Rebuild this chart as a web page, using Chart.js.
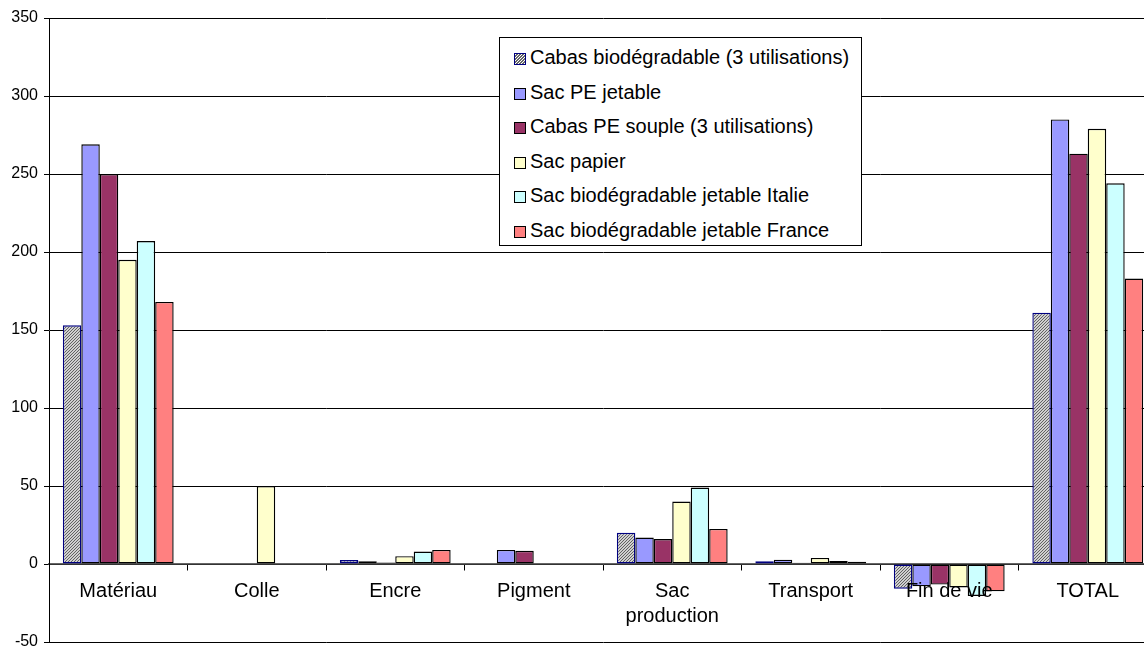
<!DOCTYPE html>
<html>
<head>
<meta charset="utf-8">
<script src="https://cdn.jsdelivr.net/npm/chart.js@4"></script>
<style>
  html, body { margin: 0; padding: 0; background: #fff; overflow: hidden; }
  #wrap { position: relative; width: 1160px; height: 660px; }
  #legend {
    position: absolute; left: 499px; top: 37px; width: 361px; height: 207px;
    border: 1px solid #000; background: #fff; box-sizing: content-box;
    font-family: "Liberation Sans", Arial, sans-serif; font-size: 20px; color: #000;
  }
  #legend .item { position: absolute; left: 14px; height: 22px; line-height: 22px; white-space: nowrap; }
  #legend .sw { display: inline-block; width: 12px; height: 12px; border: 1px solid #000; vertical-align: -1px; margin-right: 4px; box-sizing: border-box; }
</style>
</head>
<body>
<div id="wrap">
  <canvas id="chart" width="1160" height="660"></canvas>
  <div id="legend"></div>
</div>
<script>
const categories = ['Matériau', 'Colle', 'Encre', 'Pigment', ['Sac', 'production'], 'Transport', 'Fin de vie', 'TOTAL'];
const seriesNames = [
    'Cabas biodégradable (3 utilisations)',
    'Sac PE jetable',
    'Cabas PE souple (3 utilisations)',
    'Sac papier',
    'Sac biodégradable jetable Italie',
    'Sac biodégradable jetable France'
];
// null = no bar in the reference
const cabasBio   = [153, null, 2.5, null, 20, 1.7, -15.8, 161];
const sacPE      = [269, null, 1.7, 9, 17, 2.8, -14.3, 285];
const cabasPE    = [250, null, 1, 8.5, 16, 0.8, -13.2, 263];
const sacPapier  = [195, 50, 5, null, 40, 3.9, -15, 279];
const bioItalie  = [207, null, 8, null, 49, 2, -20.5, 244];
const bioFrance  = [168, null, 9, null, 22.5, 1.5, -17.5, 183];
const yTicks = [-50, 0, 50, 100, 150, 200, 250, 300, 350];

const FONT = '"Liberation Sans", Arial, sans-serif';

// hatched fill for the first series
function makeHatch() {
    const c = document.createElement('canvas');
    c.width = 3; c.height = 3;
    const g = c.getContext('2d');
    g.fillStyle = '#ffffff';
    g.fillRect(0, 0, 3, 3);
    g.strokeStyle = '#5a5a5a';
    g.lineWidth = 1.1;
    g.beginPath();
    g.moveTo(0, 3); g.lineTo(3, 0);
    g.moveTo(-1, 1); g.lineTo(1, -1);
    g.moveTo(2, 4); g.lineTo(4, 2);
    g.stroke();
    return g.createPattern(c, 'repeat');
}

const ctx = document.getElementById('chart').getContext('2d');
const hatch = makeHatch();

const values = [cabasBio, sacPE, cabasPE, sacPapier, bioItalie, bioFrance];
const fills = [hatch, '#9999ff', '#993366', '#ffffcc', '#ccffff', '#ff8080'];
const borders = ['#000080', '#000', '#000', '#000', '#000', '#000'];
const swatchCss = [
    'repeating-linear-gradient(135deg, #fff 0 1px, #666 1px 2.2px)',
    '#9999ff', '#993366', '#ffffcc', '#ccffff', '#ff8080'
];

new Chart(ctx, {
    type: 'bar',
    data: {
        labels: categories,
        datasets: values.map((v, i) => ({
            label: seriesNames[i],
            data: v,
            backgroundColor: fills[i],
            borderColor: borders[i],
            borderWidth: 1.4,
            borderSkipped: false,
            categoryPercentage: 0.8,
            barPercentage: 1.0
        }))
    },
    options: {
        responsive: false,
        animation: false,
        layout: { padding: { top: 18, right: 3, bottom: 18, left: 0 } },
        plugins: { legend: { display: false }, tooltip: { enabled: false } },
        scales: {
            x: {
                position: { y: 0 },
                grid: { offset: true, drawOnChartArea: false, drawTicks: true, tickLength: 6, color: '#000' },
                border: { display: true, color: '#666', width: 1.5 },
                ticks: { z: 1, color: '#000', font: { family: FONT, size: 20, lineHeight: 1.25 }, padding: 9, maxRotation: 0, autoSkip: false }
            },
            y: {
                min: -50, max: 350,
                afterBuildTicks: s => { s.ticks = yTicks.map(v => ({ value: v })); },
                afterFit: s => { s.width = 49; },
                grid: { color: '#000', lineWidth: 1, tickLength: 5, drawTicks: true },
                border: { display: true, color: '#000', width: 1 },
                ticks: { color: '#000', font: { family: FONT, size: 16 }, padding: 6 }
            }
        }
    }
});

// legend box
const legend = document.getElementById('legend');
seriesNames.forEach((name, i) => {
    const d = document.createElement('div');
    d.className = 'item';
    d.style.top = (8 + i * 34.6) + 'px';
    const sw = document.createElement('span');
    sw.className = 'sw';
    sw.style.background = swatchCss[i];
    if (i === 0) sw.style.borderColor = '#000080';
    d.appendChild(sw);
    d.appendChild(document.createTextNode(name));
    legend.appendChild(d);
});
</script>
</body>
</html>
